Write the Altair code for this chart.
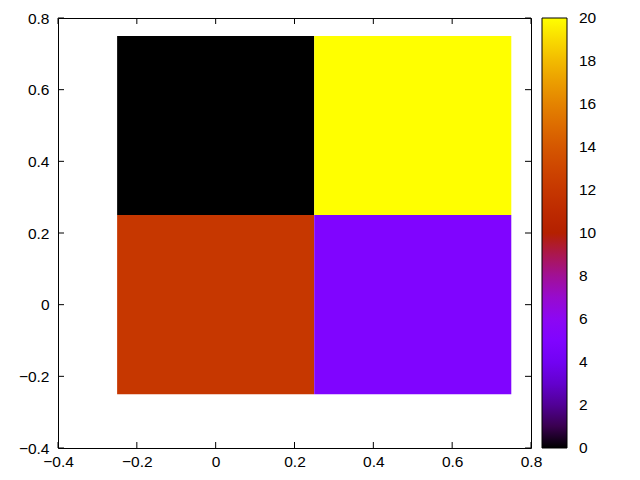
import altair as alt
import pandas as pd
import math

# Data: cell centres and values
cell_x = [0.0, 0.5, 0.0, 0.5]
cell_y = [0.5, 0.5, 0.0, 0.0]
cell_val = [0, 20, 12, 5]
half_width = 0.25

x_ticks = [-0.4, -0.2, 0, 0.2, 0.4, 0.6, 0.8]
y_ticks = [-0.4, -0.2, 0, 0.2, 0.4, 0.6, 0.8]
cb_ticks = [0, 2, 4, 6, 8, 10, 12, 14, 16, 18, 20]
cb_min, cb_max = 0, 20
eps = 0.002  # keeps end labels vertically centred on the colour bar ends

df = pd.DataFrame({"cx": cell_x, "cy": cell_y, "v": cell_val})

# gnuplot default palette (rgbformulae 7,5,15)
def pal(t):
    t = min(1.0, max(0.0, t))
    r = math.sqrt(t)
    g = t ** 3
    b = max(0.0, math.sin(2 * math.pi * t))
    return "#%02x%02x%02x" % (round(r * 255), round(g * 255), round(b * 255))

n_stops = 40
stops = [i / n_stops for i in range(n_stops + 1)]
pal_range = [pal(t) for t in stops]
lo, hi = cb_min - eps, cb_max + eps
pal_domain = [lo + t * (hi - lo) for t in stops]

W, H = 473, 430
FONT = "Liberation Sans"
FS = 15.5
CB_OFF, CB_W = 11, 25
Y0, Y1 = -0.4, 0.8

xs = alt.Scale(domain=[-0.4, 0.8], nice=False, zero=False)
ys = alt.Scale(domain=[Y0, Y1], nice=False, zero=False)

xaxis = alt.Axis(values=x_ticks, format="~g", title=None, grid=False, domain=False,
                 ticks=False, labelPadding=6, labelFont=FONT, labelFontSize=FS,
                 labelColor="black", labelFlush=False)
yaxis = alt.Axis(values=y_ticks, format="~g", title=None, grid=False, domain=False,
                 ticks=False, labelPadding=9, labelFont=FONT, labelFontSize=FS,
                 labelColor="black", labelFlush=False)

cells = alt.Chart(df).transform_calculate(
    x1=f"datum.cx - {half_width}", x2=f"datum.cx + {half_width}",
    y1=f"datum.cy - {half_width}", y2=f"datum.cy + {half_width}",
).mark_rect().encode(
    x=alt.X("x1:Q", scale=xs, axis=xaxis),
    x2="x2:Q",
    y=alt.Y("y1:Q", scale=ys, axis=yaxis),
    y2="y2:Q",
    color=alt.Color("v:Q", scale=alt.Scale(domain=pal_domain, range=pal_range,
                                           interpolate="rgb", nice=False),
                    legend=alt.Legend(title=None, values=cb_ticks, gradientLength=H,
                                      gradientThickness=CB_W, offset=CB_OFF, padding=0,
                                      labelOffset=12, labelFont=FONT, labelFontSize=FS,
                                      labelColor="black",
                                      gradientStrokeColor="black", gradientStrokeWidth=1,
                                      labelOverlap=False, format="d")),
)

tick_len = 6
xt = pd.DataFrame({"t": x_ticks})
yt = pd.DataFrame({"t": y_ticks})
ct = pd.DataFrame({"c": cb_ticks[1:-1]})

xt_bottom = alt.Chart(xt).mark_rule(color="black", strokeWidth=1).encode(
    x=alt.X("t:Q", scale=xs), y=alt.value(H), y2=alt.value(H - tick_len))
xt_top = alt.Chart(xt).mark_rule(color="black", strokeWidth=1).encode(
    x=alt.X("t:Q", scale=xs), y=alt.value(0), y2=alt.value(tick_len))
yt_left = alt.Chart(yt).mark_rule(color="black", strokeWidth=1).encode(
    y=alt.Y("t:Q", scale=ys), x=alt.value(0), x2=alt.value(tick_len))
yt_right = alt.Chart(yt).mark_rule(color="black", strokeWidth=1).encode(
    y=alt.Y("t:Q", scale=ys), x=alt.value(W), x2=alt.value(W - tick_len))

# colour-bar ticks: map colour values onto the plot's vertical extent
cb_map = f"{Y0} + (datum.c - {lo}) / ({hi} - {lo}) * ({Y1} - {Y0})"
cb_left = alt.Chart(ct).transform_calculate(cy=cb_map).mark_rule(
    color="black", strokeWidth=1, clip=False).encode(
    y=alt.Y("cy:Q", scale=ys),
    x=alt.value(W + CB_OFF), x2=alt.value(W + CB_OFF + tick_len))
cb_right = alt.Chart(ct).transform_calculate(cy=cb_map).mark_rule(
    color="black", strokeWidth=1, clip=False).encode(
    y=alt.Y("cy:Q", scale=ys),
    x=alt.value(W + CB_OFF + CB_W - tick_len), x2=alt.value(W + CB_OFF + CB_W))

chart = alt.layer(cells, xt_bottom, xt_top, yt_left, yt_right, cb_left, cb_right).properties(
    width=W, height=H,
    autosize=alt.AutoSizeParams(type="none"),
    padding={"left": 50, "top": 10, "right": 101, "bottom": 24},
    background="white",
).configure_view(stroke="black", strokeWidth=1).configure_legend(
    padding=0
)

chart.save("out.html", embed_options={"renderer": "svg", "actions": False})
